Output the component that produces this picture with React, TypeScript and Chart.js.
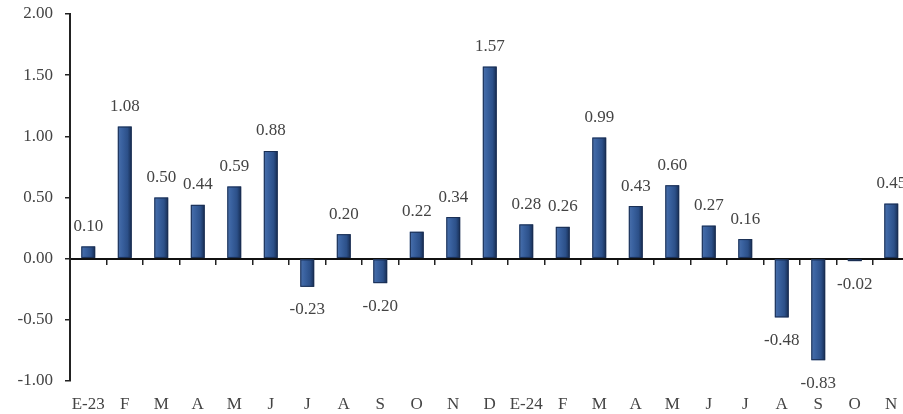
import React, { useEffect, useRef } from "react";
import { Chart, registerables } from "chart.js";

Chart.register(...registerables);

const categories = ["E-23", "F", "M", "A", "M", "J", "J", "A", "S", "O", "N", "D", "E-24", "F", "M", "A", "M", "J", "J", "A", "S", "O", "N"];
const values = [0.10, 1.08, 0.50, 0.44, 0.59, 0.88, -0.23, 0.20, -0.20, 0.22, 0.34, 1.57, 0.28, 0.26, 0.99, 0.43, 0.60, 0.27, 0.16, -0.48, -0.83, -0.02, 0.45];
const yMin = -1;
const yMax = 2;
const yStep = 0.5;

const FONT = "'Liberation Serif', 'Times New Roman', serif";
const TEXT = "#444444";

const barStyle = {
  id: "barStyle",
  afterDatasetsDraw(chart: any) {
    const ctx = chart.ctx;
    const meta = chart.getDatasetMeta(0);
    meta.data.forEach((bar: any, i: number) => {
      const { x, y, base, width } = bar.getProps(["x", "y", "base", "width"], true);
      const left = x - width / 2;
      const top = Math.min(y, base);
      const h = Math.abs(base - y);
      const g = ctx.createLinearGradient(left, 0, left + width, 0);
      g.addColorStop(0, "#4a70ab");
      g.addColorStop(0.3, "#3a62a0");
      g.addColorStop(0.7, "#2c5089");
      g.addColorStop(1, "#162c52");
      ctx.save();
      ctx.fillStyle = g;
      ctx.fillRect(left, top, width, h);
      ctx.strokeStyle = "#1a2e52";
      ctx.lineWidth = 1;
      ctx.strokeRect(left + 0.5, top + 0.5, width - 1, Math.max(h - 1, 0));
      const v = values[i];
      ctx.fillStyle = TEXT;
      ctx.font = `17px ${FONT}`;
      ctx.textAlign = "center";
      ctx.textBaseline = "middle";
      if (v >= 0) ctx.fillText(v.toFixed(2), x, y - 20);
      else ctx.fillText(v.toFixed(2), x, y + 23);
      ctx.restore();
    });
  },
};

export default function App() {
  const ref = useRef<HTMLCanvasElement | null>(null);
  useEffect(() => {
    if (!ref.current) return;
    const chart = new Chart(ref.current, {
      type: "bar",
      data: {
        labels: categories,
        datasets: [
          {
            data: values,
            backgroundColor: "rgba(0,0,0,0)",
            borderWidth: 0,
            barPercentage: 0.38,
            categoryPercentage: 1,
          },
        ],
      },
      plugins: [barStyle],
      options: {
        animation: false,
        responsive: false,
        maintainAspectRatio: false,
        layout: { padding: { top: 14, right: 2.5, bottom: 0, left: 0 } },
        plugins: { legend: { display: false }, tooltip: { enabled: false } },
        scales: {
          x: {
            position: "bottom",
            offset: true,
            grid: { display: false, drawTicks: false },
            border: { display: false },
            ticks: {
              color: TEXT,
              font: { family: FONT, size: 17 },
              padding: 13,
              maxRotation: 0,
              autoSkip: false,
            },
            afterFit: (s: any) => {
              s.height = 33;
              s.paddingLeft = 0;
              s.paddingRight = 0;
            },
          },
          x2: {
            type: "category",
            labels: categories,
            position: { y: 0 },
            offset: true,
            grid: {
              offset: true,
              drawOnChartArea: false,
              drawTicks: true,
              tickLength: 5,
              color: "#222",
              lineWidth: 1.5,
            },
            border: { display: true, color: "#111", width: 2 },
            ticks: { display: false },
          },
          y: {
            min: yMin,
            max: yMax,
            grid: {
              drawOnChartArea: false,
              drawTicks: true,
              tickLength: 5,
              color: "#222",
              lineWidth: 1.5,
            },
            border: { display: true, color: "#222", width: 2 },
            ticks: {
              stepSize: yStep,
              color: TEXT,
              font: { family: FONT, size: 17 },
              padding: 12,
              callback: (v: any) => Number(v).toFixed(2),
            },
            afterFit: (s: any) => {
              s.width = 70;
              s.paddingTop = 0;
              s.paddingBottom = 0;
            },
          },
        },
      },
    });
    return () => chart.destroy();
  }, []);
  return (
    <div style={{ position: "absolute", left: 0, top: 0, width: 903, height: 414, overflow: "hidden", background: "#fff" }}>
      <canvas ref={ref} width={912} height={414} style={{ display: "block", width: 912, height: 414 }} />
    </div>
  );
}
